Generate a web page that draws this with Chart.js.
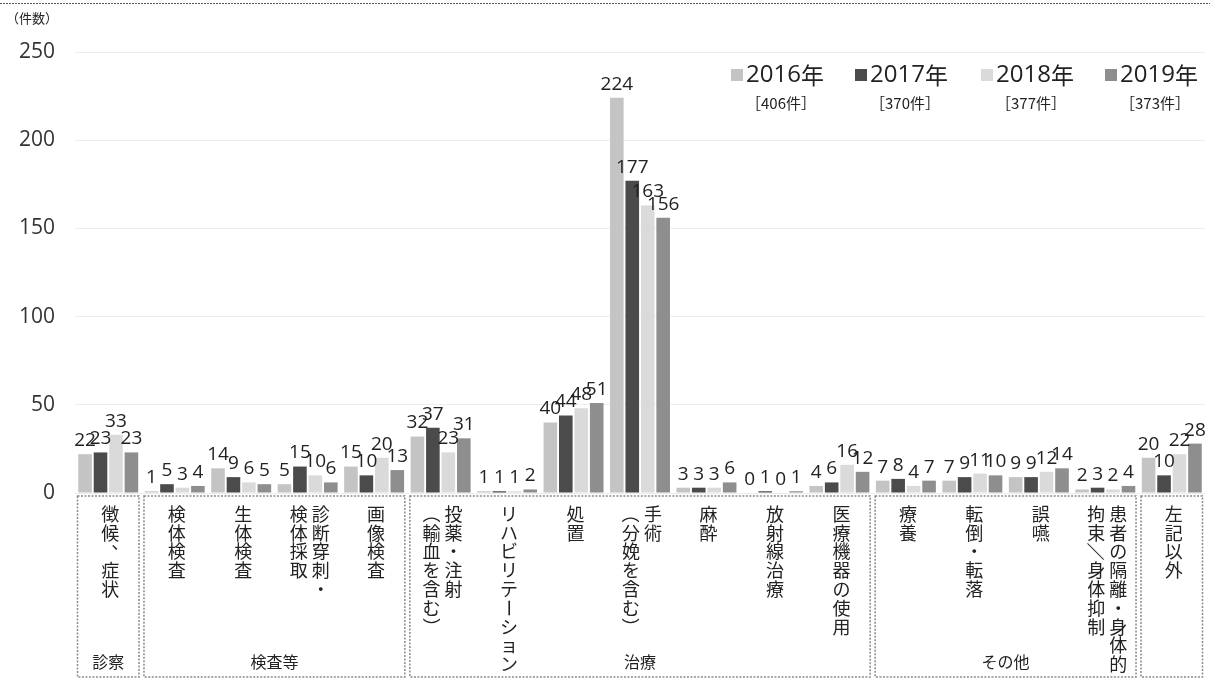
<!DOCTYPE html>
<html lang="ja">
<head>
<meta charset="utf-8">
<script src="https://cdn.jsdelivr.net/npm/chart.js@4.4.1/dist/chart.umd.min.js"></script>
<style>
  html, body { margin:0; padding:0; background:#fff; }
  #wrap { width:1210px; height:679px; position:relative; }
</style>
</head>
<body>
<div id="wrap"><canvas id="chart"></canvas></div>
<script>
// ---- данные ----
const categories = [
  ['徴候、症状'], ['検体検査'], ['生体検査'], ['診断穿刺・','検体採取'], ['画像検査'],
  ['投薬・注射','（輸血を含む）'], ['リハビリテーション'], ['処置'], ['手術','（分娩を含む）'],
  ['麻酔'], ['放射線治療'], ['医療機器の使用'],
  ['療養'], ['転倒・転落'], ['誤嚥'], ['患者の隔離・身体的','拘束／身体抑制'], ['左記以外']
];
const years  = ['2016年', '2017年', '2018年', '2019年'];
const totals = ['［406件］', '［370件］', '［377件］', '［373件］'];
const v2016 = [22, 1, 14, 5, 15, 32, 1, 40, 224, 3, 0, 4, 7, 7, 9, 2, 20];
const v2017 = [23, 5, 9, 15, 10, 37, 1, 44, 177, 3, 1, 6, 8, 9, 9, 3, 10];
const v2018 = [33, 3, 6, 10, 20, 23, 1, 48, 163, 3, 0, 16, 4, 11, 12, 2, 22];
const v2019 = [23, 4, 5, 6, 13, 31, 2, 51, 156, 6, 1, 12, 7, 10, 14, 4, 28];
const yTicks = [0, 50, 100, 150, 200, 250];
// группы: название, первая и последняя категория
const groupNames = ['診察', '検査等', '治療', 'その他', ''];
const groupFrom  = [0, 1, 5, 12, 16];
const groupTo    = [0, 4, 11, 15, 16];

const colors = ['#c4c4c4', '#4b4b4b', '#dadada', '#8e8e8e'];
const ink = '#222';
const jpFont = '"Noto Sans CJK JP", "Noto Sans", sans-serif';
const numFont = '"Open Sans", "Noto Sans", sans-serif';

// повернутые в вертикальном письме символы
const rotChars = '（）()ー／/〜';

const decorPlugin = {
  id: 'decor',
  afterDatasetsDraw(chart) {
    const { ctx, chartArea, scales } = chart;
    const x = scales.x;
    ctx.save();

    // подписи значений над столбцами
    ctx.font = '19px ' + numFont;
    ctx.fillStyle = ink;
    ctx.textAlign = 'center';
    ctx.textBaseline = 'bottom';
    chart.data.datasets.forEach((ds, di) => {
      chart.getDatasetMeta(di).data.forEach((bar, i) => {
        ctx.fillText(String(ds.data[i]), bar.x, bar.y - 4);
      });
    });

    // рамки групп
    const half = (x.getPixelForValue(1) - x.getPixelForValue(0)) / 2;
    const boxTop = chartArea.bottom + 3, boxBot = 677;
    ctx.strokeStyle = '#8a8a8a';
    ctx.lineWidth = 1.5;
    ctx.setLineDash([2, 1.5]);
    groupNames.forEach((g, k) => {
      const l = x.getPixelForValue(groupFrom[k]) - half + 2.5;
      const r = x.getPixelForValue(groupTo[k]) + half - 2.5;
      ctx.strokeRect(l, boxTop, r - l, boxBot - boxTop);
      if (g) {
        ctx.font = '16px ' + jpFont;
        ctx.textBaseline = 'middle';
        ctx.fillText(g, (l + r) / 2, 662);
      }
    });
    ctx.setLineDash([]);

    // вертикальные подписи категорий
    ctx.font = '18px ' + jpFont;
    ctx.textBaseline = 'middle';
    ctx.fillStyle = ink;
    const colGap = 22, lineH = 18.8, top0 = 514;
    categories.forEach((cols, i) => {
      const cx = x.getPixelForValue(i) + 2;
      cols.forEach((col, j) => {
        const colX = cx + (cols.length - 1) / 2 * colGap - j * colGap;
        [...col].forEach((ch, n) => {
          const cy = top0 + n * lineH;
          ctx.save();
          ctx.translate(colX, cy);
          if (rotChars.includes(ch)) ctx.rotate(Math.PI / 2);
          if (ch === '、') ctx.translate(10, -9);
          ctx.fillText(ch, 0, 0);
          ctx.restore();
        });
      });
    });

    // легенда
    const legX = [731, 855, 981, 1105];
    legX.forEach((lx, k) => {
      ctx.fillStyle = colors[k];
      ctx.fillRect(lx, 69, 12, 12);
      ctx.fillStyle = ink;
      ctx.textAlign = 'left';
      ctx.font = '24px ' + numFont;
      ctx.fillText(years[k].slice(0, 4), lx + 15, 75);
      const w = ctx.measureText(years[k].slice(0, 4)).width;
      ctx.font = '23px ' + jpFont;
      ctx.fillText('年', lx + 15 + w, 75);
      ctx.textAlign = 'center';
      ctx.font = '15px ' + jpFont;
      ctx.fillText(totals[k], lx + 50, 103);
    });

    // единица оси
    ctx.textAlign = 'left';
    ctx.font = '13px ' + jpFont;
    ctx.fillText('（件数）', 6, 18);

    // пунктир сверху (край скана)
    ctx.strokeStyle = '#555';
    ctx.lineWidth = 1;
    ctx.setLineDash([2, 1]);
    ctx.beginPath();
    ctx.moveTo(0, 3.5); ctx.lineTo(1210, 3.5);
    ctx.stroke();
    ctx.restore();
  }
};

new Chart(document.getElementById('chart').getContext('2d'), {
  type: 'bar',
  data: {
    labels: categories.map(c => c.join('')),
    datasets: [v2016, v2017, v2018, v2019].map((d, k) => ({
      label: years[k], data: d, backgroundColor: colors[k],
      categoryPercentage: 0.93, barPercentage: 0.88
    }))
  },
  options: {
    responsive: true,
    maintainAspectRatio: false,
    animation: false,
    layout: { padding: { top: 52, right: 5, bottom: 186, left: 0 } },
    plugins: { legend: { display: false }, tooltip: { enabled: false } },
    scales: {
      x: { display: false },
      y: {
        min: 0, max: 250,
        afterBuildTicks: s => { s.ticks = yTicks.map(v => ({ value: v })); },
        afterFit: s => { s.width = 75; },
        border: { display: false },
        grid: { color: 'rgba(0,0,0,0.07)', drawTicks: false },
        ticks: { color: '#333', font: { size: 21, family: numFont }, padding: 20 }
      }
    }
  },
  plugins: [decorPlugin]
});
</script>
</body>
</html>
